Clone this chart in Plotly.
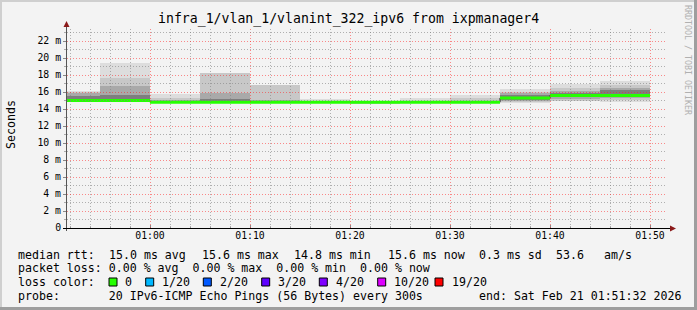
import math
import plotly.graph_objects as go
from datetime import datetime, timedelta

# ---------------- data ----------------
step_starts = ["2026-02-21 00:50", "2026-02-21 00:55", "2026-02-21 01:00", "2026-02-21 01:05",
               "2026-02-21 01:10", "2026-02-21 01:15", "2026-02-21 01:20", "2026-02-21 01:25",
               "2026-02-21 01:30", "2026-02-21 01:35", "2026-02-21 01:40", "2026-02-21 01:45"]
median_ms = [15.0, 15.0, 14.8, 14.8, 14.8, 14.8, 14.8, 14.8, 14.8, 15.3, 15.6, 15.6]

# smoke bands (outer -> inner), upper and lower edges in ms
smoke_hi_1 = [16.15, 19.4, 15.8, 18.25, 16.85, 15.15, 14.95, 15.3, 15.65, 16.35, 16.9, 17.3]
smoke_hi_2 = [16.0, 17.6, 15.25, 18.2, 16.8, 15.0, 14.9, 15.0, 15.35, 16.05, 16.5, 16.8]
smoke_hi_3 = [15.85, 16.7, 15.05, 15.9, 15.1, 14.95, 14.9, 14.95, 15.0, 15.85, 16.1, 16.5]
smoke_hi_4 = [15.5, 15.6, 14.95, 15.2, 15.0, 14.9, 14.85, 14.9, 14.9, 15.6, 15.9, 16.2]
smoke_lo_1 = [14.8, 14.8, 14.65, 14.65, 14.65, 14.65, 14.65, 14.65, 14.65, 14.75, 14.9, 14.8]
smoke_lo_2 = [14.85, 14.85, 14.7, 14.7, 14.7, 14.7, 14.7, 14.7, 14.7, 14.85, 15.0, 15.05]
smoke_lo_3 = [14.9, 14.9, 14.75, 14.75, 14.75, 14.75, 14.75, 14.75, 14.75, 14.95, 15.2, 15.25]
smoke_lo_4 = [15.0, 14.95, 14.8, 14.8, 14.8, 14.8, 14.8, 14.8, 14.8, 15.1, 15.45, 15.4]
smoke_colors = ["#dddddd", "#c8c8c8", "#a9a9a9", "#7e7e7e"]

y_tick_vals = [0, 2, 4, 6, 8, 10, 12, 14, 16, 18, 20, 22]
y_tick_text = ["0", "2 m", "4 m", "6 m", "8 m", "10 m", "12 m", "14 m", "16 m", "18 m", "20 m", "22 m"]

title_text = "infra_1/vlan_1/vlanint_322_ipv6 from ixpmanager4"
median_fields = ["median rtt:", "15.0 ms avg", "15.6 ms max", "14.8 ms min", "15.6 ms now",
                 "0.3 ms sd", "53.6", "am/s"]
loss_line = "packet loss: 0.00 % avg  0.00 % max  0.00 % min  0.00 % now"
color_line = "loss color:"
probe_line = "probe:       20 IPv6-ICMP Echo Pings (56 Bytes) every 300s"
end_text = "end: Sat Feb 21 01:51:32 2026"
loss_labels = ["0", "1/20", "2/20", "3/20", "4/20", "10/20", "19/20"]
loss_colors = ["#26ff00", "#00b8ff", "#0059ff", "#5e00ff", "#7e00ff", "#dd00ff", "#ff0000"]

x_range = ["2026-02-21 00:51:42", "2026-02-21 01:51:42"]
step_sec = 300

# ---------------- geometry helpers ----------------
W, H = 697, 310
PL, PR, PT, PB = 67, 667, 28, 228
PX_PER_MS = 8.5
SEC_PER_PX = 6
def fx(x):
    return (x - PL) / (PR - PL)
def fy(y):
    return (PB - y) / (PB - PT)

MONO = "DejaVu Sans Mono"
YMAX = (PB - PT) / PX_PER_MS

fmt = "%Y-%m-%d %H:%M"
starts = [datetime.strptime(s, fmt) for s in step_starts]
centers = [s + timedelta(seconds=step_sec / 2) for s in starts]

fig = go.Figure()

his = [smoke_hi_1, smoke_hi_2, smoke_hi_3, smoke_hi_4]
los = [smoke_lo_1, smoke_lo_2, smoke_lo_3, smoke_lo_4]
for hi, lo, col in zip(his, los, smoke_colors):
    fig.add_trace(go.Bar(
        x=centers, y=[h - l for h, l in zip(hi, lo)], base=lo,
        width=[step_sec * 1000] * len(centers),
        marker=dict(color=col, line=dict(width=0)),
        showlegend=False, hoverinfo="skip"))

# thin dark median line (visible at step transitions)
mx, my = [], []
for s, m in zip(starts, median_ms):
    mx += [s, s + timedelta(seconds=step_sec)]
    my += [m, m]
fig.add_trace(go.Scatter(x=mx, y=my, mode="lines", line=dict(color="#202020", width=1, shape="hv"),
                         showlegend=False, hoverinfo="skip"))

# green loss-coloured median segments
gx, gy = [], []
for s, m in zip(starts, median_ms):
    gx += [s, s + timedelta(seconds=step_sec), None]
    gy += [m, m, None]
fig.add_trace(go.Scatter(x=gx, y=gy, mode="lines", line=dict(color=loss_colors[0], width=3),
                         showlegend=False, hoverinfo="skip", connectgaps=False))

shapes = []
# frame
shapes.append(dict(type="rect", xref="paper", yref="paper", x0=fx(0), x1=fx(W), y0=fy(H), y1=fy(0),
                   line=dict(width=0), fillcolor="#f3f3f3", layer="below"))
shapes.append(dict(type="rect", xref="paper", yref="paper", x0=fx(0), x1=fx(2), y0=fy(H), y1=fy(0),
                   line=dict(width=0), fillcolor="#cfcfcf", layer="below"))
shapes.append(dict(type="rect", xref="paper", yref="paper", x0=fx(0), x1=fx(W), y0=fy(2), y1=fy(0),
                   line=dict(width=0), fillcolor="#cfcfcf", layer="below"))
shapes.append(dict(type="rect", xref="paper", yref="paper", x0=fx(W - 3), x1=fx(W), y0=fy(H), y1=fy(0),
                   line=dict(width=0), fillcolor="#9e9e9e", layer="below"))
shapes.append(dict(type="rect", xref="paper", yref="paper", x0=fx(0), x1=fx(W), y0=fy(H), y1=fy(H - 3),
                   line=dict(width=0), fillcolor="#9e9e9e", layer="below"))

# dotted grid drawn over the smoke (as rrdtool does), snapped to pixel centres
MINOR_COL = "rgba(130,130,130,0.6)"
MAJOR_COL = "rgba(255,30,30,0.5)"
DOT = "1px,2px"
t0 = datetime(2026, 2, 21, 0, 52)
tend = datetime(2026, 2, 21, 1, 51, 42)
t = t0
while t <= tend:
    major = (t.minute % 10 == 0)
    tx = t + timedelta(seconds=SEC_PER_PX / 2)
    shapes.append(dict(type="line", xref="x", yref="paper", x0=tx, x1=tx, y0=0, y1=1,
                       line=dict(color=MAJOR_COL if major else MINOR_COL, width=1, dash=DOT),
                       layer="above"))
    t += timedelta(minutes=2)
for v in range(1, int(YMAX) + 1):
    major = (v % 2 == 0)
    p = math.floor(PB - v * PX_PER_MS) + 0.5
    shapes.append(dict(type="line", xref="paper", yref="paper", x0=0, x1=1, y0=fy(p), y1=fy(p),
                       line=dict(color=MAJOR_COL if major else MINOR_COL, width=1, dash=DOT),
                       layer="above"))

# axis lines
shapes.append(dict(type="line", xref="paper", yref="paper", x0=fx(66.5), x1=fx(66.5), y0=fy(231), y1=fy(25),
                   line=dict(color="#555555", width=1), layer="above"))
shapes.append(dict(type="line", xref="paper", yref="paper", x0=fx(63), x1=fx(671), y0=fy(228.5), y1=fy(228.5),
                   line=dict(color="#000000", width=1), layer="above"))
# arrows
shapes.append(dict(type="path", xref="paper", yref="paper",
                   path=f"M {fx(63.5)} {fy(27)} L {fx(69.5)} {fy(27)} L {fx(66.5)} {fy(21)} Z",
                   fillcolor="#8b1a1a", line=dict(width=0)))
shapes.append(dict(type="path", xref="paper", yref="paper",
                   path=f"M {fx(670)} {fy(225.5)} L {fx(670)} {fy(231.5)} L {fx(676)} {fy(228.5)} Z",
                   fillcolor="#8b1a1a", line=dict(width=0)))
# loss colour boxes
box_x = [109, 145.7, 203.3, 261.7, 319.3, 377.7, 435]
label_x = [123, 160, 218, 276, 333.5, 392, 449.5]
for bx, col in zip(box_x, loss_colors):
    shapes.append(dict(type="rect", xref="paper", yref="paper", x0=fx(bx), x1=fx(bx + 8),
                       y0=fy(286), y1=fy(278), fillcolor=col, line=dict(color="#000000", width=1)))

ann = []
def nb(s):
    return s.replace(" ", "\u00a0")
def txt(s, x, y, size=11.6, anchor="left", angle=0, color="#000000"):
    ann.append(dict(text=nb(s), x=fx(x), y=fy(y), xref="paper", yref="paper", textangle=angle,
                    xanchor=anchor, yanchor="middle", showarrow=False,
                    font=dict(family=MONO, size=size, color=color)))

txt(title_text, 348.5, 19, size=13.2, anchor="center")
txt("Seconds", 11, 125, angle=-90, anchor="center")
txt("RRDTOOL / TOBI OETIKER", 688, 60, size=8.3, anchor="center", angle=90, color="#b0b0b0")

field_x = [16, 106.5, 199.5, 292, 385.5, 476.5, 553.5, 602]
for s, x in zip(median_fields, field_x):
    txt(s, x, 254.7)
txt(loss_line, 16, 268.3)
txt(color_line, 16, 282.0)
txt(probe_line, 16, 295.7)
txt(end_text, 477, 295.7)
for lx, lab in zip(label_x, loss_labels):
    txt(lab, lx, 282.0)

fig.update_layout(
    width=W, height=H,
    margin=dict(l=PL, r=W - PR, t=PT, b=H - PB, pad=0),
    paper_bgcolor="#f3f3f3", plot_bgcolor="#ffffff",
    barmode="overlay", bargap=0,
    shapes=shapes, annotations=ann,
    showlegend=False,
)
fig.update_xaxes(
    type="date", range=x_range, showline=False, zeroline=False, showgrid=False,
    tick0="2026-02-21 00:00", dtick=600000, tickformat="%H:%M",
    ticks="inside", ticklen=3, tickcolor="#888888",
    tickfont=dict(family=MONO, size=9.8, color="#000000"),
    minor=dict(dtick=120000, tick0="2026-02-21 00:00", showgrid=False,
               ticks="inside", ticklen=2, tickcolor="#aaaaaa"),
    layer="above traces", fixedrange=True,
)
fig.update_yaxes(
    range=[0, YMAX], showline=False, zeroline=False, showgrid=False,
    tickvals=y_tick_vals, ticktext=y_tick_text,
    ticks="outside", ticklen=3, tickcolor="#888888",
    tickfont=dict(family=MONO, size=9.8, color="#000000"),
    minor=dict(dtick=1, tick0=0, showgrid=False,
               ticks="outside", ticklen=2, tickcolor="#aaaaaa"),
    layer="above traces", fixedrange=True,
)

fig.write_html("out.html")
